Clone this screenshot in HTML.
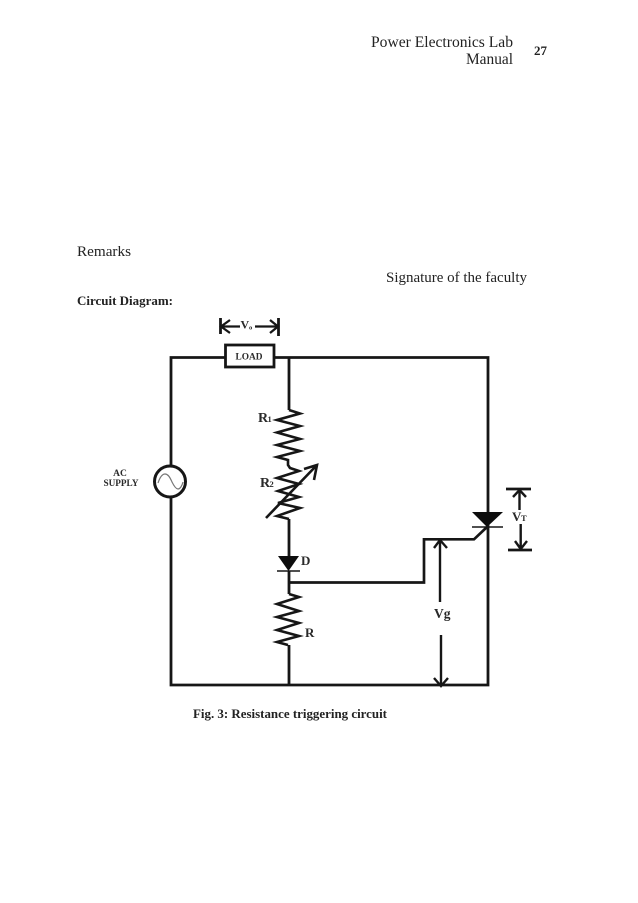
<!DOCTYPE html>
<html><head><meta charset="utf-8"><style>
html,body{margin:0;padding:0;background:#fff}
svg{display:block}
</style></head><body>
<svg xmlns="http://www.w3.org/2000/svg" width="638" height="903" viewBox="0 0 638 903">
<defs><filter id="b" x="-5%" y="-5%" width="110%" height="110%"><feGaussianBlur stdDeviation="0.35"/></filter></defs>
<rect width="638" height="903" fill="#fff"/>
<g font-family="'Liberation Serif',serif" fill="#222">
<text x="371" y="47" font-size="15.5" textLength="142" lengthAdjust="spacingAndGlyphs">Power Electronics Lab</text>
<text x="466" y="64" font-size="15.5" textLength="47" lengthAdjust="spacingAndGlyphs">Manual</text>
<text x="534" y="55" font-size="13" font-weight="bold" textLength="13" lengthAdjust="spacingAndGlyphs">27</text>
<text x="77" y="256" font-size="14.5" textLength="54" lengthAdjust="spacingAndGlyphs">Remarks</text>
<text x="386" y="282" font-size="14.5" textLength="141" lengthAdjust="spacingAndGlyphs">Signature of the faculty</text>
<text x="77" y="305" font-size="12.5" font-weight="bold" textLength="96" lengthAdjust="spacingAndGlyphs">Circuit Diagram:</text>
<text x="193" y="718" font-size="12.5" font-weight="bold" textLength="194" lengthAdjust="spacingAndGlyphs">Fig. 3: Resistance triggering circuit</text>
</g>
<g filter="url(#b)">
<g fill="none" stroke="#181818" stroke-width="2.8">
<path d="M171 497V685H488V357.500H275M225 357.500H171V466"/>
<path d="M289 358V410M289 519V557M289 571V594M289 645V685"/>
<rect x="225.500" y="345" width="48.500" height="22" stroke-width="2.800"/>
<circle cx="170" cy="481.500" r="15.500" stroke-width="3"/>
<path d="M289 410L300 413.500L277 420L300 426L277 432.500L300 439L277 445L300 451L277 457L288 460L288 465L290 468L299 471L277 478L299 484L278 491L299 497L278 503L300 508L277 516L289 519" stroke-width="2.600"/>
<path d="M289 594L299 597L277 604L299 611L277 617L299 623L277 630L299 636L277 642L288 645" stroke-width="2.600"/>
<path d="M266 518L316 466M304 469L317 465L314 480" stroke-width="2.600"/>
<path d="M277 571H300" stroke-width="1.600"/>
<path d="M288 582.500H424V539.300H474L487 527" stroke-width="2.700"/>
<path d="M472 527H503" stroke-width="1.600"/>
<path d="M220.500 318V334M278.500 318V336" stroke-width="2.800"/>
<path d="M221 326.500H240M255 326.500H278M230 320L221 326.500L230 333M270 320L278 326.500L270 333" stroke-width="2.300"/>
<path d="M506 489H531M508 550H532" stroke-width="2.800"/>
<path d="M519.500 490V510M520.700 524V549M513 497L519.500 490L526 497M515 541L520.700 549L527 541" stroke-width="2.400"/>
<path d="M440 540V602M441 635V686M434 548L440 540L447 548M434 678L441 686L448 678" stroke-width="2.400"/>
</g>
<path d="M158 483C160 477 162 474 165 474C169 474 171 480 172 482C174 486 176 489 178 489C180 489 182 486 183 482" fill="none" stroke="#777" stroke-width="1.200"/>
<path d="M278 556H299L288.500 571Z" fill="#111"/>
<path d="M472 512H503L487 527Z" fill="#111"/>
<g font-family="'Liberation Serif',serif" font-weight="bold" fill="#2a2a2a">
<text x="235.500" y="359.500" font-size="9.500" textLength="27" lengthAdjust="spacingAndGlyphs">LOAD</text>
<text x="240.500" y="328.500" font-size="12">V</text><text x="249" y="329.500" font-size="6.500">o</text>
<text x="258" y="422" font-size="14">R</text><text x="267.500" y="422" font-size="8.500">1</text>
<text x="260" y="487" font-size="14">R</text><text x="269.500" y="487" font-size="8.500">2</text>
<text x="120" y="476" font-size="9.500" text-anchor="middle">AC</text>
<text x="121" y="486" font-size="9.500" text-anchor="middle" textLength="35" lengthAdjust="spacingAndGlyphs">SUPPLY</text>
<text x="301" y="565" font-size="13">D</text>
<text x="305" y="637" font-size="13">R</text>
<text x="434" y="618" font-size="13.500">Vg</text>
<text x="512" y="521" font-size="13">V</text><text x="521" y="521" font-size="8.500">T</text>
</g>
</g>
</svg>
</body></html>
